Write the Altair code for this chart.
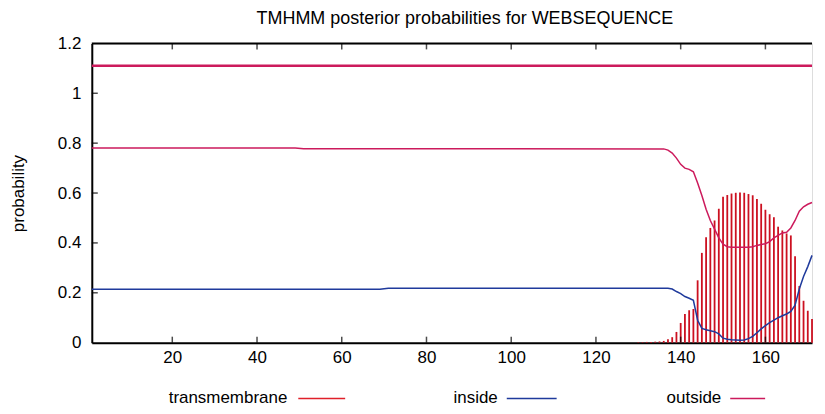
import altair as alt
import pandas as pd

# ---------------- data ----------------
x_ticks = [20, 40, 60, 80, 100, 120, 140, 160]
y_ticks = [0, 0.2, 0.4, 0.6, 0.8, 1.0, 1.2]
y_inner_ticks = [0.2, 0.4, 0.6, 0.8, 1.0]

tm_pos = list(range(130, 172))
tm_prob = [0.002, 0.002, 0.003, 0.003, 0.004, 0.005, 0.007,
           0.014, 0.022, 0.043, 0.079, 0.115, 0.130, 0.135, 0.250, 0.360,
           0.423, 0.460, 0.490, 0.537, 0.585, 0.592, 0.598, 0.601, 0.602,
           0.601, 0.596, 0.591, 0.576, 0.557, 0.533, 0.515, 0.503, 0.465,
           0.450, 0.438, 0.430, 0.347, 0.227, 0.168, 0.128, 0.095]

inside_pos = [1, 69, 71, 137, 138, 139, 140, 141, 142, 143, 144, 145, 146,
              147, 148, 149, 150, 151, 152, 153, 154, 155, 156, 157, 158,
              159, 160, 161, 162, 163, 164, 165, 166, 167, 168, 169, 170, 171]
inside_prob = [0.214, 0.214, 0.218, 0.218, 0.215, 0.205, 0.197, 0.185,
               0.178, 0.170, 0.090, 0.057, 0.052, 0.048, 0.044, 0.035,
               0.018, 0.014, 0.012, 0.011, 0.010, 0.011, 0.016, 0.025,
               0.040, 0.055, 0.068, 0.080, 0.090, 0.100, 0.108, 0.115,
               0.125, 0.150, 0.215, 0.265, 0.305, 0.350]

outside_pos = [1, 49, 51, 136, 137, 138, 139, 140, 141, 142, 143, 144, 145,
               146, 147, 148, 149, 150, 151, 152, 153, 154, 155, 156, 157,
               158, 159, 160, 161, 162, 163, 164, 165, 166, 167, 168, 169,
               170, 171]
outside_prob = [0.781, 0.781, 0.778, 0.777, 0.772, 0.760, 0.740, 0.715,
                0.700, 0.695, 0.685, 0.640, 0.590, 0.535, 0.490, 0.455,
                0.420, 0.395, 0.385, 0.383, 0.383, 0.383, 0.383, 0.383,
                0.385, 0.390, 0.394, 0.397, 0.405, 0.420, 0.430, 0.440,
                0.443, 0.460, 0.490, 0.527, 0.545, 0.555, 0.562]

topo_pos = [1, 171]
topo_level = [1.11, 1.11]

legend_names = ["transmembrane", "inside", "outside"]

# ---------------- styles ----------------
FONT = "Liberation Sans"
C_TM = "#cc1020"
C_TM_LEG = "#e0202a"
C_IN = "#1f3a9c"
C_OUT = "#cc1a5c"
W, H = 722, 300

xs = alt.Scale(domain=[1, 171], nice=False, zero=False)
ys = alt.Scale(domain=[0, 1.2], nice=False)

tm_df = pd.DataFrame({"pos": tm_pos, "p": tm_prob})
in_df = pd.DataFrame({"pos": inside_pos, "p": inside_prob})
out_df = pd.DataFrame({"pos": outside_pos, "p": outside_prob})
topo_df = pd.DataFrame({"pos": topo_pos, "p": topo_level})
xt_df = pd.DataFrame({"t": x_ticks})
yt_df = pd.DataFrame({"t": y_inner_ticks})

x_axis = alt.Axis(values=x_ticks, title=None, grid=False, ticks=False,
                  domainColor="black", domainWidth=2, labelFontSize=17,
                  labelFont=FONT, labelColor="black", labelPadding=7,
                  labelBaseline="top")
y_axis = alt.Axis(values=y_ticks, title="probability", grid=False, ticks=False,
                  domainColor="black", domainWidth=2, labelFontSize=17,
                  labelFont=FONT, labelColor="black", labelPadding=11,
                  format="~g", titleFont=FONT, titleFontSize=17,
                  titleFontWeight="normal", titleColor="black",
                  titleX=-73, titleY=150, titleAngle=270,
                  titleAlign="center", titleBaseline="middle")

bars = alt.Chart(tm_df).mark_rule(color=C_TM, strokeWidth=1.8).encode(
    x=alt.X("pos:Q", scale=xs, axis=x_axis),
    y=alt.Y("p:Q", scale=ys, axis=y_axis),
    y2=alt.datum(0),
)

inside = alt.Chart(in_df).mark_line(color=C_IN, strokeWidth=1.5).encode(
    x=alt.X("pos:Q", scale=xs), y=alt.Y("p:Q", scale=ys))
outside = alt.Chart(out_df).mark_line(color=C_OUT, strokeWidth=1.5).encode(
    x=alt.X("pos:Q", scale=xs), y=alt.Y("p:Q", scale=ys))
topo = alt.Chart(topo_df).mark_line(color=C_OUT, strokeWidth=2.5).encode(
    x=alt.X("pos:Q", scale=xs), y=alt.Y("p:Q", scale=ys))

top_border = alt.Chart(pd.DataFrame({"v": [1.2]})).mark_rule(
    color="black", strokeWidth=2).encode(y=alt.Y("v:Q", scale=ys))

xt_bottom = alt.Chart(xt_df).mark_tick(orient="vertical", size=6, thickness=1.5,
                                       color="black", yOffset=-3).encode(
    x=alt.X("t:Q", scale=xs), y=alt.datum(0))
xt_top = alt.Chart(xt_df).mark_tick(orient="vertical", size=6, thickness=1.5,
                                    color="black", yOffset=3).encode(
    x=alt.X("t:Q", scale=xs), y=alt.datum(1.2))
yt_left = alt.Chart(yt_df).mark_tick(orient="horizontal", size=6, thickness=1.5,
                                     color="black", xOffset=3).encode(
    y=alt.Y("t:Q", scale=ys), x=alt.datum(1))

# legend (gnuplot style: label then sample line)
legend_layers = []
leg_text_right = [196, 407, 631]
leg_line = [(207, 254, C_TM_LEG), (416, 466, C_IN), (640, 675, C_OUT)]
LEG_Y = 355
for name, xr, (a, b, c) in zip(legend_names, leg_text_right, leg_line):
    legend_layers.append(
        alt.Chart(pd.DataFrame({"name": [name]})).mark_text(
            align="right", baseline="middle", fontSize=17, font=FONT,
            color="black").encode(text="name:N", x=alt.value(xr),
                                  y=alt.value(LEG_Y)))
    legend_layers.append(
        alt.Chart(pd.DataFrame({"name": [name]})).mark_rule(
            color=c, strokeWidth=1.5).encode(x=alt.value(a), x2=alt.value(b),
                                             y=alt.value(LEG_Y + 1)))

chart = alt.layer(
    bars, inside, outside, topo, top_border, xt_bottom, xt_top, yt_left,
    *legend_layers
).properties(
    width=W, height=H,
    title=alt.TitleParams("TMHMM posterior probabilities for WEBSEQUENCE",
                          font=FONT, fontSize=18, fontWeight="normal",
                          color="black", anchor="middle", dx=13, offset=6),
    padding={"left": 2, "top": 2, "right": 0, "bottom": 0},
).configure_view(stroke=None).configure(background="white")

chart.save("out.html", embed_options={"renderer": "svg", "actions": False})
